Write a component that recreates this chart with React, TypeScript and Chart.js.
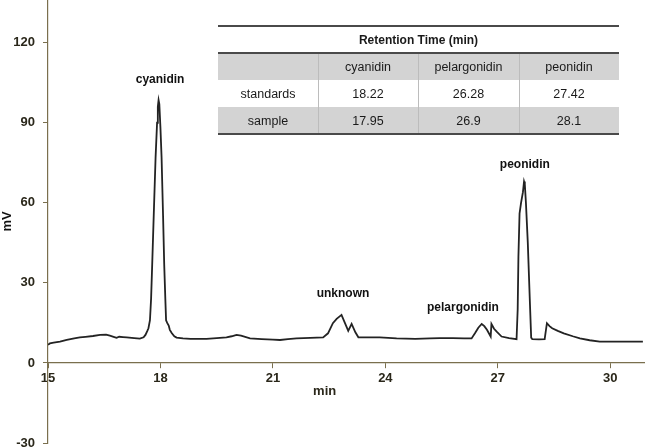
import React, { useEffect, useRef } from 'react';
import { Chart, registerables } from 'chart.js';

Chart.register(...registerables);

// Chromatogram trace (retention time in min, signal in mV)
const timeMin = [
  15.0, 15.05, 15.15, 15.32, 15.5, 15.7, 15.85, 16.0, 16.2, 16.39, 16.55, 16.65, 16.75, 16.83, 16.9, 17.0, 17.1, 17.3, 17.45, 17.55,
  17.6, 17.65, 17.68, 17.72, 17.75, 17.78, 17.82, 17.87, 17.91, 17.93, 17.95, 17.97, 18.0, 18.03, 18.07, 18.1, 18.13, 18.15, 18.18, 18.22,
  18.25, 18.3, 18.37, 18.43, 18.6, 18.8, 19.0, 19.23, 19.5, 19.76, 19.9, 20.03, 20.15, 20.39, 20.7, 21.0, 21.19, 21.4, 21.63, 22.0,
  22.34, 22.47, 22.6, 22.7, 22.83, 22.92, 23.01, 23.1, 23.2, 23.28, 23.5, 23.85, 24.3, 24.8, 25.19, 25.45, 25.8, 26.1, 26.3, 26.39,
  26.48, 26.57, 26.64, 26.71, 26.81, 26.83, 26.9, 26.97, 27.1, 27.3, 27.5, 27.53, 27.55, 27.58, 27.62, 27.67, 27.7, 27.72, 27.75, 27.8,
  27.85, 27.89, 27.92, 28.1, 28.25, 28.31, 28.38, 28.45, 28.6, 28.76, 29.0, 29.19, 29.45, 29.72, 30.2, 30.87,
];
const signalMV = [
  6.8, 7.3, 7.6, 8.0, 8.6, 9.2, 9.6, 9.8, 10.1, 10.5, 10.6, 10.2, 9.8, 9.4, 9.8, 9.7, 9.6, 9.3, 9.1, 9.6,
  10.5, 12, 13, 16, 24, 37, 55, 77, 90, 96, 98.5, 97, 88, 77, 55, 37, 24, 16, 15, 14,
  12.4, 11.2, 10, 9.5, 9.2, 9.0, 9.0, 9.0, 9.3, 9.6, 10, 10.5, 10.2, 9.2, 8.9, 8.7, 8.6, 8.9, 9.2, 9.4,
  9.6, 11.1, 14.9, 16.5, 18, 15, 12, 14.6, 11.5, 9.6, 9.6, 9.6, 9.2, 9.0, 9.2, 9.3, 9.3, 9.2, 9.2, 11.1,
  13.2, 14.6, 13.8, 12.4, 9.9, 14.6, 12.8, 11.7, 9.9, 9.3, 8.9, 20, 40, 56, 60, 64, 68, 67, 60, 45,
  25, 9.5, 8.9, 8.8, 8.9, 14.9, 13.8, 13, 12, 11.1, 10, 9.2, 8.5, 8.0, 8.0, 8.0,
];

// Peak annotations
const peakNames = ['cyanidin', 'unknown', 'pelargonidin', 'peonidin'];
const peakLabelTime = [17.99, 22.87, 26.07, 27.72];
const peakLabelMV = [106.1, 25.9, 20.6, 74.2];

// Axis ticks
const xTickValues = [15, 18, 21, 24, 27, 30];
const yTickValues = [-30, 0, 30, 60, 90, 120];

// Inset table
const tableTitle = 'Retention Time (min)';
const tableHeaders = ['', 'cyanidin', 'pelargonidin', 'peonidin'];
const tableRowNames = ['standards', 'sample'];
const standardsRT = ['18.22', '26.28', '27.42'];
const sampleRT = ['17.95', '26.9', '28.1'];

const FONT = 'Arial, "Liberation Sans", sans-serif';
const AXIS_COLOR = '#7a6f4e';
const LABEL_COLOR = '#2a271a';

const annotationPlugin = {
  id: 'annotations',
  afterDraw(chart: any) {
    const ctx = chart.ctx as CanvasRenderingContext2D;
    const xs = chart.scales.x;
    const ys = chart.scales.y;
    ctx.save();
    // peak labels
    ctx.fillStyle = '#111';
    ctx.font = `bold 12px ${FONT}`;
    ctx.textAlign = 'center';
    ctx.textBaseline = 'middle';
    peakNames.forEach((n, i) => {
      ctx.fillText(n, xs.getPixelForValue(peakLabelTime[i]), ys.getPixelForValue(peakLabelMV[i]));
    });
    // x axis title
    ctx.font = `bold 13px ${FONT}`;
    ctx.fillStyle = LABEL_COLOR;
    ctx.fillText('min', xs.getPixelForValue(22.38), ys.getPixelForValue(0) + 28);

    // table
    const left = 218;
    const colW = [100, 100, 101, 100];
    const right = left + colW.reduce((a, b) => a + b, 0);
    const rowTop = [26, 53, 80, 107];
    const rowH = 27;
    const bottom = rowTop[3] + rowH;
    ctx.fillStyle = '#ffffff';
    ctx.fillRect(left, rowTop[0], right - left, bottom - rowTop[0]);
    ctx.fillStyle = '#d3d3d3';
    ctx.fillRect(left, rowTop[1], right - left, rowH);
    ctx.fillRect(left, rowTop[3], right - left, rowH);
    // column separators
    ctx.strokeStyle = '#bcbcbc';
    ctx.lineWidth = 1;
    let cx = left;
    for (let c = 0; c < colW.length - 1; c++) {
      cx += colW[c];
      ctx.beginPath();
      ctx.moveTo(cx + 0.5, rowTop[1]);
      ctx.lineTo(cx + 0.5, bottom);
      ctx.stroke();
    }
    // horizontal rules
    ctx.strokeStyle = '#4a4a4a';
    ctx.lineWidth = 2;
    [rowTop[0], rowTop[1], bottom].forEach((y) => {
      ctx.beginPath();
      ctx.moveTo(left, y);
      ctx.lineTo(right, y);
      ctx.stroke();
    });
    // text
    ctx.fillStyle = '#1a1a1a';
    ctx.font = `bold 12px ${FONT}`;
    ctx.fillText(tableTitle, (left + right) / 2, rowTop[0] + rowH / 2 + 1);
    ctx.font = `12.5px ${FONT}`;
    const centers: number[] = [];
    let acc = left;
    colW.forEach((w) => {
      centers.push(acc + w / 2);
      acc += w;
    });
    tableHeaders.forEach((h, i) => ctx.fillText(h, centers[i], rowTop[1] + rowH / 2 + 1));
    const rows = [standardsRT, sampleRT];
    tableRowNames.forEach((r, ri) => {
      const y = rowTop[2 + ri] + rowH / 2 + 1;
      ctx.fillText(r, centers[0], y);
      rows[ri].forEach((v, ci) => ctx.fillText(v, centers[ci + 1], y));
    });
    ctx.restore();
  },
};

export default function App() {
  const canvasRef = useRef<HTMLCanvasElement | null>(null);

  useEffect(() => {
    if (!canvasRef.current) return;
    const chart = new Chart(canvasRef.current, {
      type: 'line',
      data: {
        datasets: [
          {
            data: timeMin.map((t, i) => ({ x: t, y: signalMV[i] })),
            borderColor: '#232323',
            borderWidth: 1.8,
            pointRadius: 0,
            tension: 0,
            fill: false,
          },
        ],
      },
      options: {
        responsive: false,
        animation: false,
        layout: { padding: { left: 0, right: 7, top: 0, bottom: 5 } },
        plugins: { legend: { display: false }, tooltip: { enabled: false } },
        scales: {
          x: {
            type: 'linear',
            min: 15,
            max: 30.9,
            position: { y: 0 } as any,
            afterBuildTicks: (s: any) => {
              s.ticks = xTickValues.map((v) => ({ value: v }));
            },
            afterFit: (s: any) => {
              s.paddingLeft = 0;
              s.paddingRight = 0;
            },
            grid: { drawOnChartArea: false, drawTicks: true, tickLength: 5, color: AXIS_COLOR },
            border: { display: true, color: AXIS_COLOR, width: 1.2 },
            ticks: {
              autoSkip: false,
              maxRotation: 0,
              padding: 3,
              color: LABEL_COLOR,
              font: { family: FONT, size: 13, weight: 'bold' },
            },
          },
          y: {
            type: 'linear',
            min: -30,
            max: 136,
            afterBuildTicks: (s: any) => {
              s.ticks = yTickValues.map((v) => ({ value: v }));
            },
            afterFit: (s: any) => {
              s.width = 48;
              s.paddingTop = 0;
              s.paddingBottom = 0;
            },
            grid: { drawOnChartArea: false, drawTicks: true, tickLength: 5, color: AXIS_COLOR },
            border: { display: true, color: AXIS_COLOR, width: 1.2 },
            ticks: {
              padding: 8,
              color: LABEL_COLOR,
              font: { family: FONT, size: 13, weight: 'bold' },
            },
            title: {
              display: true,
              text: 'mV',
              color: '#111',
              padding: 0,
              font: { family: FONT, size: 13, weight: 'bold' },
            },
          },
        },
      } as any,
      plugins: [annotationPlugin],
    });
    return () => chart.destroy();
  }, []);

  return (
    <div style={{ position: 'absolute', left: 0, top: 0, width: 651, height: 448, overflow: 'hidden', background: '#fff' }}>
      <canvas ref={canvasRef} width={651} height={448} />
    </div>
  );
}
